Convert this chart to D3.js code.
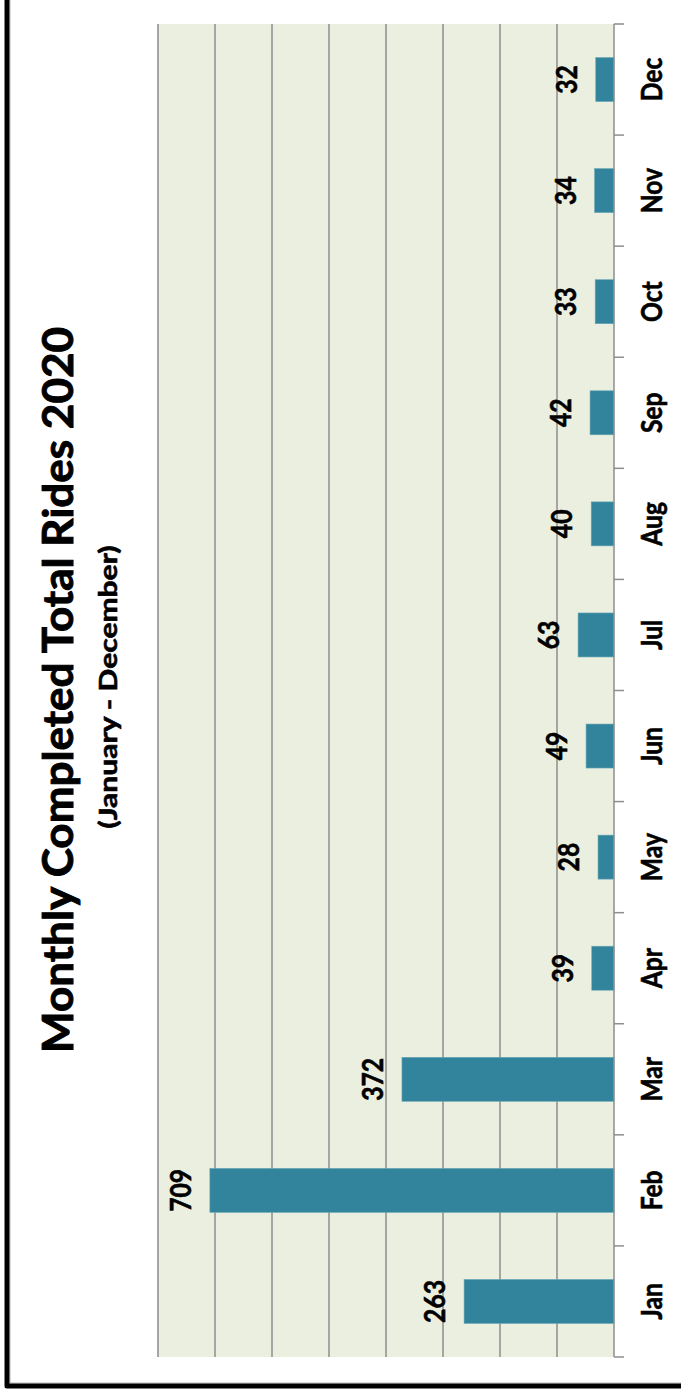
<!DOCTYPE html>
<html>
<head>
<meta charset="utf-8">
<script src="https://cdn.jsdelivr.net/npm/d3@7"></script>
<style>
  html, body { margin: 0; padding: 0; background: #ffffff; }
  svg { display: block; }
  text { font-family: Lato, "Open Sans", "DejaVu Sans", sans-serif; font-weight: 700; fill: #000;
         stroke: #000; stroke-width: 0.6px; paint-order: stroke; }
</style>
</head>
<body>
<script>
// Monthly completed rides, 2020
const months = ["Jan", "Feb", "Mar", "Apr", "May", "Jun", "Jul", "Aug", "Sep", "Oct", "Nov", "Dec"];
const rides  = [263, 709, 372, 39, 28, 49, 63, 40, 42, 33, 34, 32];
const valueDomain = [0, 800];
const gridStep = 100;
const titleText = "Monthly Completed Total Rides 2020";
const subtitleText = "(January - December)";

const W = 681, H = 1393;
const svg = d3.select("body").append("svg").attr("width", W).attr("height", H);

// The chart is laid out turned a quarter turn: values grow leftwards, months run bottom to top.
const plot = { left: 157, right: 614, top: 24, bottom: 1357 };

const x = d3.scaleLinear().domain(valueDomain).range([plot.right, plot.left + 1]);
const y = d3.scaleBand().domain(months).range([plot.bottom, plot.top])
  .paddingInner(0.604).paddingOuter(0.302);

// frame edges with a faint inner shadow
svg.append("line").attr("x1", 10).attr("x2", 10).attr("y1", 0).attr("y2", 1383)
  .attr("stroke", "#b5b5b5").attr("stroke-width", 1);
svg.append("line").attr("x1", 10).attr("x2", W).attr("y1", 1383).attr("y2", 1383)
  .attr("stroke", "#b5b5b5").attr("stroke-width", 1);
svg.append("path")
  .attr("d", `M7,0 V1386 H${W}`)
  .attr("fill", "none").attr("stroke", "#000").attr("stroke-width", 5)
  .attr("stroke-linejoin", "round");

// plot background
svg.append("rect")
  .attr("x", plot.left).attr("y", plot.top)
  .attr("width", plot.right - plot.left).attr("height", plot.bottom - plot.top)
  .attr("fill", "#ebefdf");

// value gridlines every 100 rides
const gridVals = d3.range(valueDomain[0] + gridStep, valueDomain[1] + 1, gridStep);
svg.append("g").selectAll("line").data(gridVals).join("line")
  .attr("x1", d => x(d)).attr("x2", d => x(d))
  .attr("y1", plot.top).attr("y2", plot.bottom)
  .attr("stroke", "#8e8e8e").attr("stroke-width", 1.5);

// bars
svg.append("g").selectAll("rect").data(months).join("rect")
  .attr("x", (d, i) => x(rides[i]))
  .attr("y", d => y(d))
  .attr("width", (d, i) => x(0) - x(rides[i]))
  .attr("height", y.bandwidth())
  .attr("fill", "#31849b")
  .attr("stroke", "#6aa6b8").attr("stroke-width", 0.6);

// category axis line and boundary ticks
svg.append("line")
  .attr("x1", x(0)).attr("x2", x(0)).attr("y1", plot.top).attr("y2", plot.bottom)
  .attr("stroke", "#8e8e8e").attr("stroke-width", 1.5);
const bounds = d3.range(months.length + 1).map(k => plot.bottom - k * y.step());
svg.append("g").selectAll("line").data(bounds).join("line")
  .attr("x1", x(0)).attr("x2", x(0) + 10)
  .attr("y1", d => d).attr("y2", d => d)
  .attr("stroke", "#8e8e8e").attr("stroke-width", 1.5);

// month labels
svg.append("g").selectAll("text").data(months).join("text")
  .attr("transform", d => `translate(662,${y(d) + y.bandwidth() / 2}) rotate(-90) scale(0.88,1)`)
  .attr("text-anchor", "middle")
  .attr("font-size", 28)
  .text(d => d);

// value labels beyond each bar end
svg.append("g").selectAll("text").data(months).join("text")
  .attr("transform", (d, i) => `translate(${x(rides[i]) - 19},${y(d) + y.bandwidth() / 2}) rotate(-90) scale(0.88,1)`)
  .attr("text-anchor", "middle")
  .attr("font-size", 28)
  .text((d, i) => rides[i]);

// title and subtitle
const cy = 690;
svg.append("text")
  .attr("transform", `translate(73,${cy}) rotate(-90)`)
  .attr("text-anchor", "middle")
  .attr("font-size", 42)
  .style("stroke-width", "0.9px")
  .attr("textLength", 726).attr("lengthAdjust", "spacingAndGlyphs")
  .text(titleText);
svg.append("text")
  .attr("transform", `translate(117,${cy - 3}) rotate(-90)`)
  .attr("text-anchor", "middle")
  .attr("font-size", 24)
  .attr("textLength", 283).attr("lengthAdjust", "spacingAndGlyphs")
  .text(subtitleText);
</script>
</body>
</html>
